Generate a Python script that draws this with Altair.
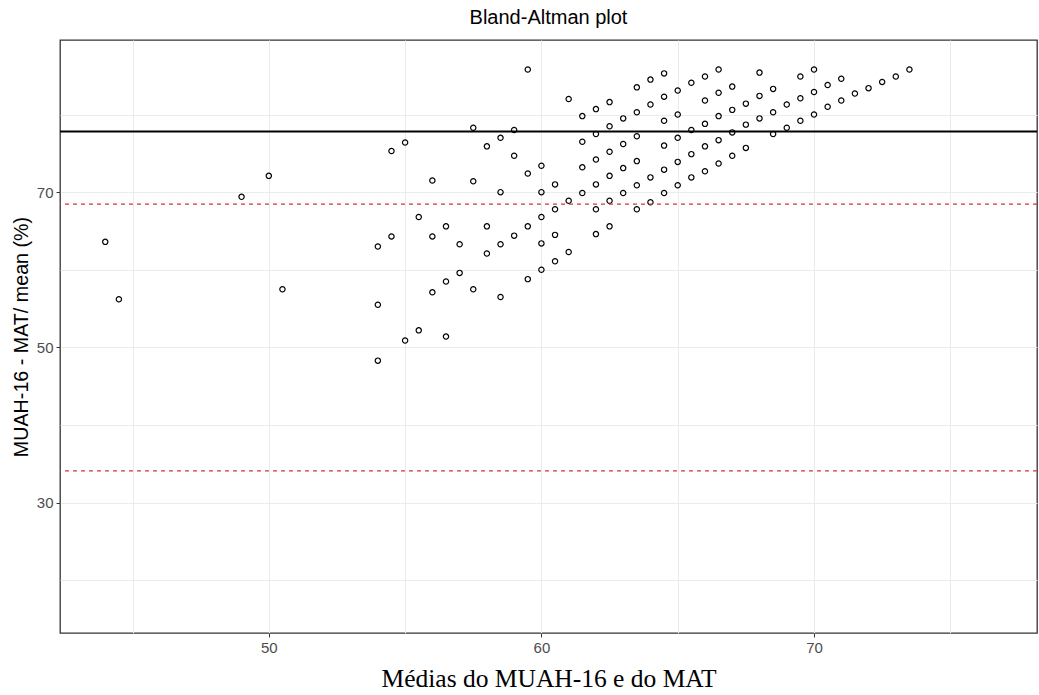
import altair as alt
import pandas as pd

# Mean of the two methods (x) and relative difference in % (y), one list per x column
x_means = [44.0, 44.5, 49.0, 50.0, 50.5,
           54.0, 54.0, 54.0, 54.5, 54.5, 55.0, 55.0, 55.5, 55.5,
           56.0, 56.0, 56.0, 56.5, 56.5, 56.5, 57.0, 57.0,
           57.5, 57.5, 57.5, 58.0, 58.0, 58.0, 58.5, 58.5, 58.5, 58.5,
           59.0, 59.0, 59.0, 59.5, 59.5, 59.5, 59.5,
           60.0, 60.0, 60.0, 60.0, 60.0, 60.5, 60.5, 60.5, 60.5,
           61.0, 61.0, 61.0, 61.5, 61.5, 61.5, 61.5,
           62.0, 62.0, 62.0, 62.0, 62.0, 62.0,
           62.5, 62.5, 62.5, 62.5, 62.5, 62.5,
           63.0, 63.0, 63.0, 63.0,
           63.5, 63.5, 63.5, 63.5, 63.5, 63.5,
           64.0, 64.0, 64.0, 64.0,
           64.5, 64.5, 64.5, 64.5, 64.5, 64.5,
           65.0, 65.0, 65.0, 65.0, 65.0,
           65.5, 65.5, 65.5, 65.5,
           66.0, 66.0, 66.0, 66.0, 66.0,
           66.5, 66.5, 66.5, 66.5, 66.5,
           67.0, 67.0, 67.0, 67.0,
           67.5, 67.5, 67.5,
           68.0, 68.0, 68.0, 68.5, 68.5, 68.5,
           69.0, 69.0, 69.5, 69.5, 69.5,
           70.0, 70.0, 70.0, 70.5, 70.5, 71.0, 71.0,
           71.5, 72.0, 72.5, 73.0, 73.5]

rel_diff = [63.6, 56.2, 69.4, 72.1, 57.5,
            63.0, 55.5, 48.3, 75.3, 64.3, 76.4, 50.9, 66.8, 52.2,
            71.5, 64.3, 57.1, 65.6, 58.5, 51.4, 63.3, 59.6,
            78.3, 71.4, 57.5, 75.9, 65.6, 62.1, 77.0, 70.0, 63.3, 56.5,
            78.0, 74.7, 64.4, 85.8, 72.4, 65.6, 58.8,
            73.4, 70.0, 66.8, 63.4, 60.0, 71.0, 67.8, 64.5, 61.1,
            82.0, 68.9, 62.3, 79.8, 76.5, 73.2, 69.9,
            80.7, 77.5, 74.2, 71.0, 67.8, 64.6,
            81.6, 78.5, 75.2, 72.1, 68.9, 65.6,
            79.5, 76.2, 73.1, 69.9,
            83.5, 80.3, 77.2, 74.0, 70.9, 67.8,
            84.5, 81.3, 71.9, 68.7,
            85.3, 82.3, 79.2, 76.0, 72.9, 69.9,
            83.1, 80.0, 77.0, 73.9, 70.9,
            84.1, 78.0, 74.9, 71.9,
            84.9, 81.8, 78.8, 75.9, 72.7,
            85.8, 82.8, 79.8, 76.7, 73.7,
            83.6, 80.6, 77.7, 74.7,
            81.4, 78.7, 75.7,
            85.4, 82.4, 79.5, 83.3, 80.3, 77.5,
            81.3, 78.3, 84.9, 82.1, 79.2,
            85.8, 82.9, 80.0, 83.8, 81.0, 84.6, 81.8,
            82.7, 83.4, 84.2, 84.9, 85.8]

# Bias (mean difference) and limits of agreement
bias = [77.8]
limits = [68.45, 34.1]

x_domain = [42.34, 78.18]
y_domain = [13.22, 89.6]
x_grid = [45, 50, 55, 60, 65, 70, 75]
y_grid = [20, 30, 40, 50, 60, 70, 80]

points = pd.DataFrame({"media": x_means, "dif": rel_diff})

label_style = dict(
    labelFont="Liberation Sans",
    labelFontSize=15,
    labelColor="#4d4d4d",
    labelPadding=3,
    tickColor="#333333",
    tickSize=4,
    tickWidth=1,
    domain=False,
    grid=True,
    gridColor="#ebebeb",
    gridWidth=1,
)

x_enc = alt.X(
    "media:Q",
    scale=alt.Scale(domain=x_domain, nice=False, zero=False),
    axis=alt.Axis(
        values=x_grid,
        title="Médias do MUAH-16 e do MAT",
        titleFont="Liberation Serif",
        titleFontSize=25.5,
        titleFontWeight="normal",
        titleColor="#000000",
        titlePadding=11,
        labelExpr="datum.value % 10 === 0 ? datum.label : ''",
        tickOpacity={"condition": {"test": "datum.value % 10 === 0", "value": 1}, "value": 0},
        **label_style,
    ),
)
y_enc = alt.Y(
    "dif:Q",
    scale=alt.Scale(domain=y_domain, nice=False, zero=False),
    axis=alt.Axis(
        values=y_grid,
        title="MUAH-16 - MAT/ mean (%)",
        titleFont="Liberation Sans",
        titleFontSize=19.7,
        titleFontWeight="normal",
        titleColor="#000000",
        titlePadding=5,
        labelExpr="datum.value % 20 === 10 ? datum.label : ''",
        tickOpacity={"condition": {"test": "datum.value % 20 === 10", "value": 1}, "value": 0},
        **label_style,
    ),
)

scatter = alt.Chart(points).mark_point(
    shape="circle", filled=False, color="#000000", size=28, strokeWidth=1.2, opacity=1
).encode(x=x_enc, y=y_enc)

bias_line = alt.Chart(pd.DataFrame({"v": bias})).mark_rule(
    color="#000000", strokeWidth=2
).encode(y=alt.Y("v:Q"))

limit_lines = alt.Chart(pd.DataFrame({"v": limits})).mark_rule(
    color="#dc3535", strokeWidth=1.2, strokeDash=[4, 4]
).encode(y=alt.Y("v:Q"))

chart = (
    alt.layer(scatter, bias_line, limit_lines)
    .properties(
        width=977,
        height=593,
        background="#ffffff",
        title=alt.TitleParams(
            "Bland-Altman plot",
            font="Liberation Sans",
            fontSize=20,
            fontWeight="normal",
            color="#000000",
            anchor="middle",
            baseline="alphabetic",
            offset=14,
            dy=18,
        ),
        autosize=alt.AutoSizeParams(type="none"),
        padding={"left": 60, "top": 40, "right": 2, "bottom": 62},
    )
    .configure_view(stroke="#333333", strokeWidth=1.3)
)

chart.save("out.html", embed_options={"renderer": "svg", "actions": False})
